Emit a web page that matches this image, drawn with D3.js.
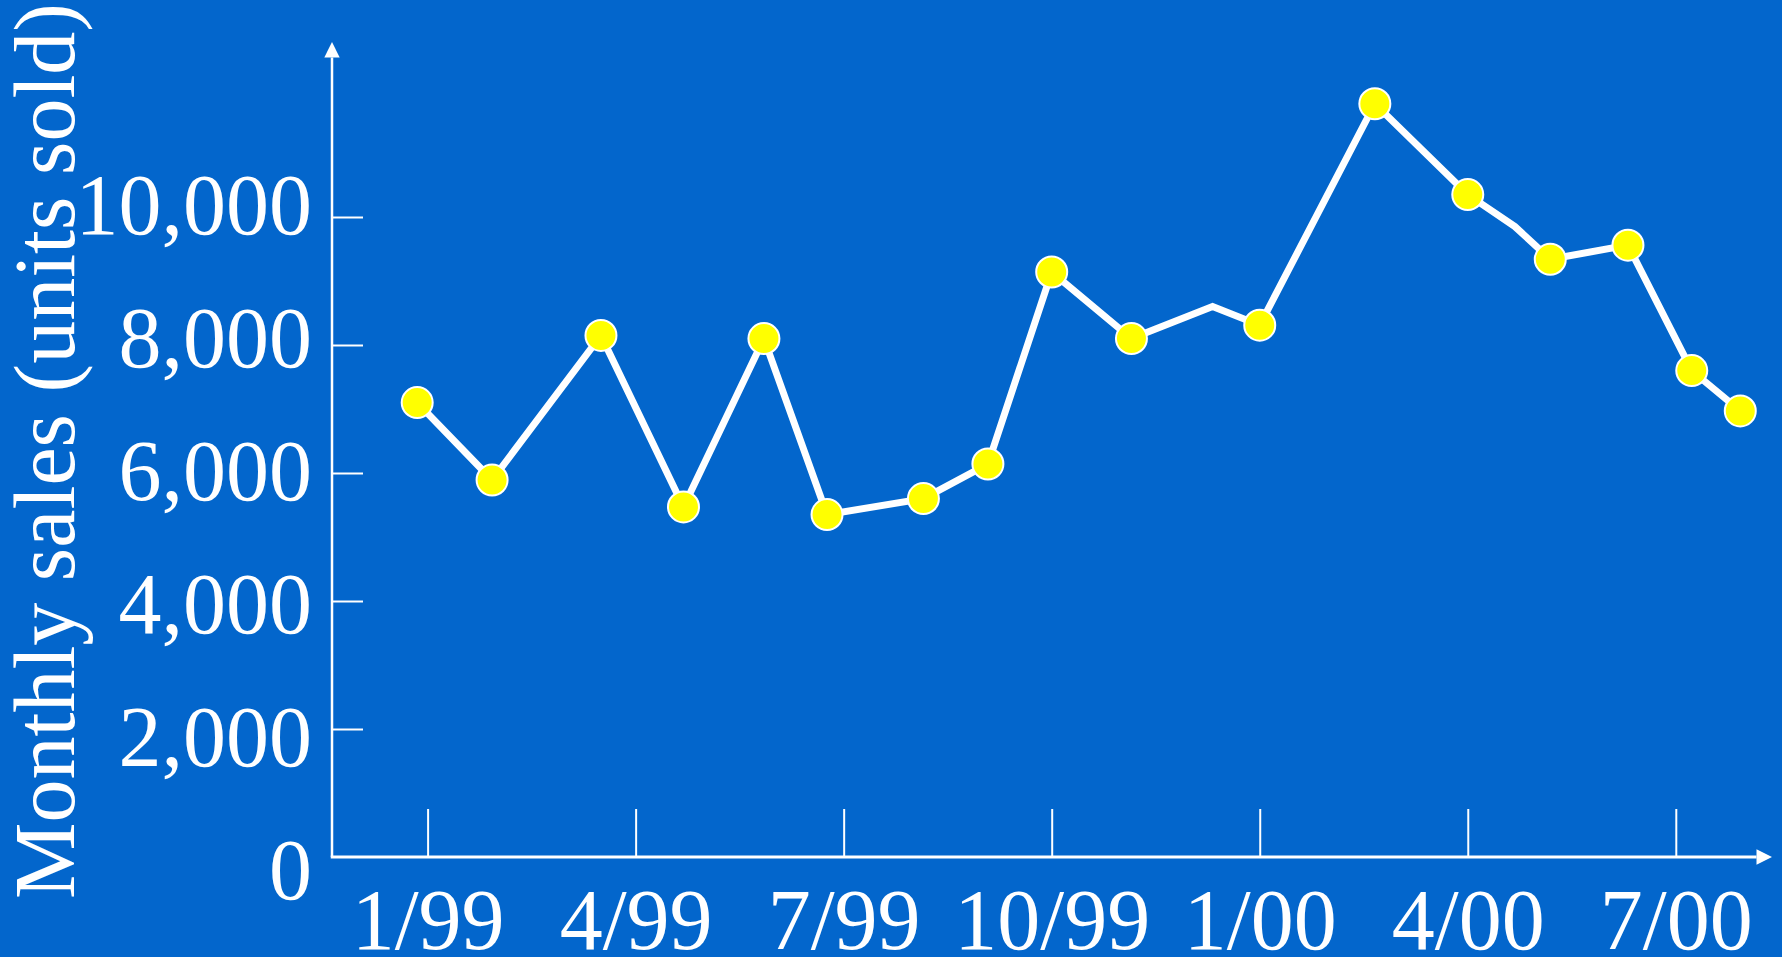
<!DOCTYPE html>
<html>
<head>
<meta charset="utf-8">
<script src="https://cdn.jsdelivr.net/npm/d3@7"></script>
<style>
  html, body { margin: 0; padding: 0; background: #0366cc; }
  svg { display: block; }
  text { font-family: "Liberation Serif", "Times New Roman", serif; fill: #ffffff; }
</style>
</head>
<body>
<svg id="chart" width="1782" height="957"></svg>
<script>
// Monthly sales, Jan 1999 – Aug 2000. Month offsets count from January 1999.
const months = [-0.15, 0.93, 2.5, 3.69, 4.85, 5.76, 7.15, 8.08, 9.0, 10.15,
                11.32, 12.0, 13.66, 15.0, 15.68, 16.19, 17.31, 18.23, 18.93];
const sales  = [7100, 5890, 8150, 5470, 8100, 5350, 5600, 6140, 9140, 8100,
                8600, 8310, 11770, 10350, 9850, 9340, 9560, 7600, 6970];
// Readings drawn with a dot (the two unmarked ones are interim readings).
const marked = [true, true, true, true, true, true, true, true, true, true,
                false, true, true, true, false, true, true, true, true];

const xTickMonths = [0, 3, 6, 9, 12, 15, 18];
const xTickLabels = ["1/99", "4/99", "7/99", "10/99", "1/00", "4/00", "7/00"];
const yTickValues = [0, 2000, 4000, 6000, 8000, 10000];
const yTitle = "Monthly sales (units sold)";

const svg = d3.select("#chart");
const W = 1782, H = 957;
const FONT = 86;

svg.append("rect").attr("width", W).attr("height", H).attr("fill", "#0366cc");

const x = d3.scaleLinear().domain([0, 18]).range([427.6, 1675.8]);
const y = d3.scaleLinear().domain([0, 10000]).range([857, 217]);
// Value labels sit on a slightly wider spacing than the tick marks.
const yLabel = d3.scaleLinear().domain([0, 10000]).range([898, 233]);

const originX = 332, originY = y(0);
const xEnd = 1772, yEnd = 42;
const arrowLen = 15.5, arrowHalf = 7.7;

// Axis lines with arrowheads
const axes = svg.append("g");
axes.append("line")
  .attr("x1", originX).attr("y1", originY)
  .attr("x2", originX).attr("y2", yEnd + arrowLen)
  .attr("stroke", "#fff").attr("stroke-width", 2.5);
axes.append("path")
  .attr("d", `M${originX},${yEnd}L${originX - arrowHalf},${yEnd + arrowLen}L${originX + arrowHalf},${yEnd + arrowLen}Z`)
  .attr("fill", "#fff");
axes.append("line")
  .attr("x1", originX - 1.25).attr("y1", originY)
  .attr("x2", xEnd - arrowLen).attr("y2", originY)
  .attr("stroke", "#fff").attr("stroke-width", 3);
axes.append("path")
  .attr("d", `M${xEnd},${originY}L${xEnd - arrowLen},${originY - arrowHalf}L${xEnd - arrowLen},${originY + arrowHalf}Z`)
  .attr("fill", "#fff");

// Y tick marks pointing into the plot
const yTicks = svg.append("g")
  .attr("transform", `translate(${originX},0)`)
  .call(d3.axisLeft(y).tickValues(yTickValues.filter(v => v > 0)).tickSize(-31).tickFormat(""));
yTicks.select(".domain").remove();
yTicks.selectAll(".tick line").attr("stroke", "#fff").attr("stroke-width", 2);

// Y value labels
const yLabels = svg.append("g")
  .attr("transform", `translate(312,0)`)
  .call(d3.axisLeft(yLabel).tickValues(yTickValues).tickSize(0).tickPadding(0).tickFormat(d3.format(",")));
yLabels.select(".domain").remove();
yLabels.selectAll(".tick line").remove();
yLabels.selectAll(".tick text")
  .attr("x", 0).attr("dy", 0)
  .attr("text-anchor", "end")
  .attr("font-size", FONT)
  .attr("font-family", null)
  .attr("fill", "#fff");

// X tick marks pointing up, with month labels below
const xAxis = svg.append("g")
  .attr("transform", `translate(0,${originY})`)
  .call(d3.axisBottom(x).tickValues(xTickMonths).tickSize(-48)
        .tickFormat((d, i) => xTickLabels[i]));
xAxis.select(".domain").remove();
xAxis.selectAll(".tick line").attr("stroke", "#fff").attr("stroke-width", 2);
xAxis.selectAll(".tick text")
  .attr("y", 92).attr("dy", 0)
  .attr("font-size", FONT)
  .attr("font-family", null)
  .attr("fill", "#fff");

// Axis title
svg.append("text")
  .attr("transform", `translate(74,451) rotate(-90)`)
  .attr("text-anchor", "middle")
  .attr("font-size", FONT)
  .text(yTitle);

// Sales line
const pts = months.map((m, i) => ({ m, v: sales[i], dot: marked[i] }));
const line = d3.line().x(d => x(d.m)).y(d => y(d.v));
svg.append("path")
  .datum(pts)
  .attr("d", line)
  .attr("fill", "none")
  .attr("stroke", "#fff")
  .attr("stroke-width", 7)
  .attr("stroke-linejoin", "miter");

// Reading dots
svg.append("g").selectAll("circle")
  .data(pts.filter(d => d.dot))
  .join("circle")
  .attr("cx", d => x(d.m))
  .attr("cy", d => y(d.v))
  .attr("r", 15.5)
  .attr("fill", "#ffff00")
  .attr("stroke", "#fff")
  .attr("stroke-width", 2);
</script>
</body>
</html>
